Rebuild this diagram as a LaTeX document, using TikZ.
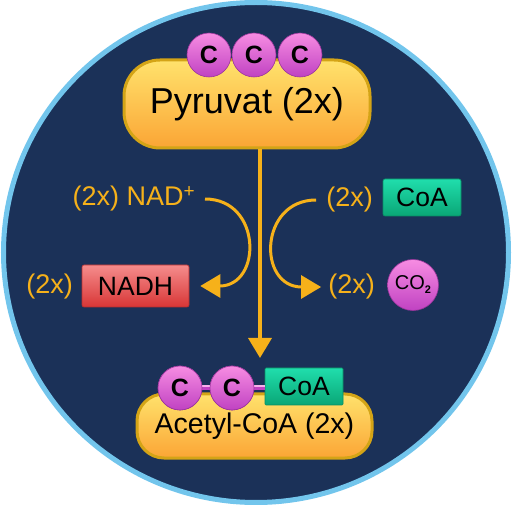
\documentclass[tikz,border=0pt]{standalone}
\usepackage{fontspec}
\setmainfont{Liberation Sans}
\usetikzlibrary{arrows.meta, calc}
\definecolor{navy}{HTML}{1B3158}
\definecolor{ring}{HTML}{72C5EC}
\definecolor{gold}{HTML}{F6B11A}
\definecolor{boxtop}{HTML}{FFE26C}
\definecolor{boxbot}{HTML}{FBA535}
\definecolor{boxrim}{HTML}{D4A416}
\definecolor{pinktop}{HTML}{F78CE2}
\definecolor{pinkbot}{HTML}{C042C2}
\definecolor{redtop}{HTML}{F58C8C}
\definecolor{redbot}{HTML}{D83636}
\definecolor{greentop}{HTML}{20DEAC}
\definecolor{greenbot}{HTML}{0AA676}

\begin{document}
\begin{tikzpicture}[x=1pt,y=-1pt]
      \tikzset{molecule/.style={draw=boxrim, line width=3pt,
          top color=boxtop, bottom color=boxbot,
          text=black, inner sep=0pt},
        atom/.style={circle, draw=pinkbot!80!black, line width=0.6pt,
          top color=pinktop, bottom color=pinkbot,
          minimum size=44pt, inner sep=0pt,
          font=\fontsize{25}{25}\selectfont\bfseries},
        tag/.style={draw=#1bot!85!black, line width=0.6pt, rounded corners=2pt,
          top color=#1top, bottom color=#1bot, inner sep=0pt,
          font=\fontsize{26.5}{26.5}\selectfont},
        count/.style={text=gold, inner sep=0pt, font=\fontsize{27}{27}\selectfont},
        flow/.style={draw=gold, line width=3pt,
          -{Triangle[width=23pt,length=20pt]}}
      }
      \useasboundingbox (0,0) rectangle (512,505);
      \fill [navy] (256,252.5) ellipse [x radius=253, y radius=250];
      \draw [ring, line width=5pt] (256,252.5) ellipse [x radius=252.5, y radius=250];

      % pyruvate
      \node [molecule, rounded corners=36pt, minimum width=246pt, minimum height=88pt,
        font=\fontsize{36}{36}\selectfont] (pyr) at (247,104) {Pyruvat (2x)};
      \node [atom] (c1) at (209,55) {C};
      \node [atom] (c2) at (254,55) {C};
      \node [atom] (c3) at (300,55) {C};

      % acetyl-CoA
      \coordinate (tip) at (260,358);
      \draw [flow, line width=3.5pt] (pyr.south -| tip) -- (tip);
      \node [molecule, rounded corners=27pt, minimum width=235pt, minimum height=64pt,
        font=\fontsize{28.5}{28.5}\selectfont] (acoa) at (254.5,426) {Acetyl-CoA (2x)};
      \node [tag=green, rounded corners=1pt, minimum width=78pt, minimum height=37pt] (coaB) at (304,386.5) {CoA};
      \node [atom] (b1) at (180,388) {};
      \node [atom] (b2) at (232,388) {};
      \fill [pinkbot] ($(b1)+(0,-2.5)$) rectangle ($(coaB.west |- b2)+(0,2.5)$);
      \fill [pinktop!70!white] ($(b1)+(0,-2.5)$) rectangle ($(coaB.west |- b2)+(0,-0.5)$);
      \node [atom] at (b1) {C};
      \node [atom] at (b2) {C};

      % NAD+ -> NADH
      \node [count, anchor=east] (nad) at (195,199) {(2x) NAD\raisebox{8pt}{\fontsize{19}{19}\selectfont +}};
      \node [tag=red, minimum width=107pt, minimum height=42pt] (nadh) at (135.5,286) {NADH};
      \node [count, anchor=east] (n2) at (73,287) {(2x)};
      \draw [flow] ([xshift=10pt]nad.east) .. controls +(57,0) and +(62,0) .. ([xshift=11pt]nadh.east);

      % CoA -> CO2
      \node [tag=green, minimum width=78pt, minimum height=37pt] (coaT) at (422,197.5) {CoA};
      \node [count, anchor=east] (n3) at (373,200) {(2x)};
      \node [atom, minimum size=51pt, font=\fontsize{20}{20}\selectfont] (co2) at (413,285)
        {CO\raisebox{-4pt}{\fontsize{11}{11}\selectfont\bfseries 2}};
      \node [count, anchor=east] (n4) at (375,287) {(2x)};
      \draw [flow] ([xshift=-10pt]n3.west) .. controls +(-57,0) and +(-64,0) .. ([xshift=-7pt]n4.west);
\end{tikzpicture}
\end{document}
